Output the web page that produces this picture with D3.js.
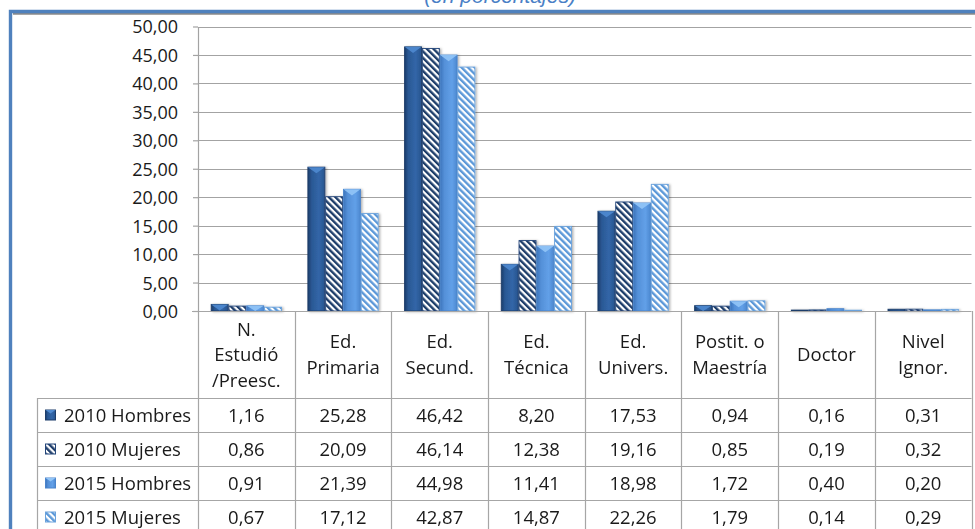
<!DOCTYPE html>
<html>
<head>
<meta charset="utf-8">
<script src="https://cdn.jsdelivr.net/npm/d3@7"></script>
<style>
  html, body { margin: 0; padding: 0; background: #fff; }
  svg { display: block; }
  text { font-family: "Open Sans", "Noto Sans", sans-serif; fill: #1a1a1a; }
</style>
</head>
<body>
<svg id="chart" width="975" height="529"></svg>
<script>
// Education level categories (line breaks as shown in the table header)
const categories = [
  "N.\nEstudió\n/Preesc.", "Ed.\nPrimaria", "Ed.\nSecund.", "Ed.\nTécnica",
  "Ed.\nUnivers.", "Postit. o\nMaestría", "Doctor", "Nivel\nIgnor."
];
const seriesNames = ["2010 Hombres", "2010 Mujeres", "2015 Hombres", "2015 Mujeres"];
const hombres2010 = [1.16, 25.28, 46.42, 8.20, 17.53, 0.94, 0.16, 0.31];
const mujeres2010 = [0.86, 20.09, 46.14, 12.38, 19.16, 0.85, 0.19, 0.32];
const hombres2015 = [0.91, 21.39, 44.98, 11.41, 18.98, 1.72, 0.40, 0.20];
const mujeres2015 = [0.67, 17.12, 42.87, 14.87, 22.26, 1.79, 0.14, 0.29];
const yTicks = [0, 5, 10, 15, 20, 25, 30, 35, 40, 45, 50];
const subtitle = "(en porcentajes)";

const seriesValues = [hombres2010, mujeres2010, hombres2015, mujeres2015];
const seriesKind = ["solidDark", "stripeDark", "solidLight", "stripeLight"];

const svg = d3.select("#chart");
const W = 975;

// Layout
const plotLeft = 198, plotRight = 971.5, plotTop = 26.5, plotBottom = 311;
const headerBottom = 398, rowH = 34, legendLeft = 37;
const tableFont = "18.5px";

const locale = d3.formatLocale({ decimal: ",", thousands: ".", grouping: [3], currency: ["", ""] });
const fmt = locale.format(".2f");

const x = d3.scaleBand().domain(categories).range([plotLeft, plotRight]).padding(0);
const xs = d3.scaleBand().domain(seriesNames).range([0, x.bandwidth()]).paddingInner(0).paddingOuter(0.72);
const y = d3.scaleLinear().domain([0, 50]).range([plotBottom, plotTop]);

// ---- defs: gradients, stripe patterns, shadow
const defs = svg.append("defs");
function hGrad(id, stops) {
  const g = defs.append("linearGradient").attr("id", id)
    .attr("x1", "0%").attr("x2", "100%").attr("y1", "0%").attr("y2", "0%");
  stops.forEach(([o, c]) => g.append("stop").attr("offset", o).attr("stop-color", c));
}
hGrad("gDark", [["0%", "#1a3c6a"], ["22%", "#2a5894"], ["65%", "#3266a8"], ["100%", "#28548e"]]);
hGrad("gLight", [["0%", "#3c74bb"], ["25%", "#5490d8"], ["70%", "#62a0e8"], ["100%", "#4c88d0"]]);

function stripes(id, color) {
  const p = defs.append("pattern").attr("id", id)
    .attr("patternUnits", "userSpaceOnUse").attr("width", 4.6).attr("height", 4.6)
    .attr("patternTransform", "rotate(-45)");
  p.append("rect").attr("width", 4.6).attr("height", 4.6).attr("fill", "#fff");
  p.append("rect").attr("width", 2.4).attr("height", 4.6).attr("fill", color);
}
stripes("pDark", "#1f3e6b");
stripes("pLight", "#5b98d8");

const sh = defs.append("filter").attr("id", "shadow")
  .attr("x", "-30%").attr("y", "-5%").attr("width", "160%").attr("height", "115%");
sh.append("feDropShadow").attr("dx", 1.5).attr("dy", 0.5).attr("stdDeviation", 1.2)
  .attr("flood-color", "#000").attr("flood-opacity", 0.3);

const style = {
  solidDark:   { fill: "url(#gDark)",  stroke: "#1d3d6a", chevron: "#4f8ad0" },
  stripeDark:  { fill: "url(#pDark)",  stroke: "#24467a", chevron: null },
  solidLight:  { fill: "url(#gLight)", stroke: "#4a84cb", chevron: "#92c5f7" },
  stripeLight: { fill: "url(#pLight)", stroke: "#6aa2dc", chevron: null }
};

// ---- subtitle (sits above the frame, partly clipped at the top edge)
svg.append("text").attr("x", 500).attr("y", 3)
  .attr("text-anchor", "middle")
  .style("font-family", "'Liberation Sans', Arial, sans-serif")
  .style("font-style", "italic").style("font-size", "21px")
  .style("fill", "#4a7fc6").text(subtitle);

// ---- frame
svg.append("line").attr("x1", 13).attr("x2", W).attr("y1", 13.8).attr("y2", 13.8)
  .attr("stroke", "#8a8a8a").attr("stroke-width", 1.8);
svg.append("path").attr("d", `M10.5,529 V11.5 H${W}`)
  .attr("fill", "none").attr("stroke", "#4f81bd").attr("stroke-width", 3.4);

// ---- gridlines
const grid = svg.append("g");
grid.selectAll("line").data(yTicks.filter(d => d > 0)).join("line")
  .attr("x1", plotLeft).attr("x2", plotRight)
  .attr("y1", d => Math.round(y(d)) + 0.5).attr("y2", d => Math.round(y(d)) + 0.5)
  .attr("stroke", "#a3a3a3").attr("stroke-width", 1.2);

// ---- y axis
const yAxis = d3.axisLeft(y).tickValues(yTicks).tickFormat(fmt)
  .tickSize(5).tickSizeOuter(0).tickPadding(15);
const gy = svg.append("g").attr("transform", `translate(${plotLeft},0)`).call(yAxis);
gy.select(".domain").attr("stroke", "#a3a3a3").attr("stroke-width", 1.2);
gy.selectAll(".tick line").attr("stroke", "#a3a3a3").attr("stroke-width", 1.2);
gy.selectAll(".tick text").style("font-size", "18px").style("font-family", "'Open Sans', sans-serif")
  .attr("fill", "#1a1a1a").attr("dy", "0.36em");

// ---- bars
const barData = [];
seriesNames.forEach((s, si) => {
  categories.forEach((c, ci) => {
    barData.push({ s, c, v: seriesValues[si][ci], kind: seriesKind[si] });
  });
});
const bars = svg.append("g").attr("filter", "url(#shadow)");
const bg = bars.selectAll("g").data(barData).join("g")
  .attr("transform", d => `translate(${x(d.c) + xs(d.s)},0)`);
bg.append("rect")
  .attr("x", 0.4).attr("width", xs.bandwidth() - 0.8)
  .attr("y", d => y(d.v)).attr("height", d => y(0) - y(d.v))
  .attr("fill", d => style[d.kind].fill)
  .attr("stroke", d => style[d.kind].stroke).attr("stroke-width", 0.9);
bg.filter(d => style[d.kind].chevron && (y(0) - y(d.v)) > 3).append("path")
  .attr("d", d => {
    const w = xs.bandwidth() - 0.8, t = y(d.v), depth = Math.min(w * 0.36, y(0) - t);
    return `M0.4,${t} L${0.4 + w},${t} L${0.4 + w / 2},${t + depth} Z`;
  })
  .attr("fill", d => style[d.kind].chevron).attr("opacity", 0.9);

// ---- data table
const table = svg.append("g");
const rowsBottom = headerBottom + rowH * seriesNames.length;
const lineColor = "#a6a6a6";
// top axis / header top line
table.append("line").attr("x1", plotLeft - 6).attr("x2", plotRight)
  .attr("y1", plotBottom + 0.5).attr("y2", plotBottom + 0.5)
  .attr("stroke", lineColor).attr("stroke-width", 1.2);
// vertical column separators
const colEdges = categories.map(c => x(c)).concat([plotRight]);
table.selectAll("line.col").data(colEdges).join("line").attr("class", "col")
  .attr("x1", d => Math.round(d) + 0.5).attr("x2", d => Math.round(d) + 0.5)
  .attr("y1", plotBottom).attr("y2", rowsBottom)
  .attr("stroke", lineColor).attr("stroke-width", 1.2);
// legend column left edge
table.append("line").attr("x1", legendLeft + 0.5).attr("x2", legendLeft + 0.5)
  .attr("y1", headerBottom).attr("y2", rowsBottom)
  .attr("stroke", lineColor).attr("stroke-width", 1.2);
// row separators
table.selectAll("line.row").data(d3.range(seriesNames.length + 1)).join("line").attr("class", "row")
  .attr("x1", legendLeft).attr("x2", plotRight)
  .attr("y1", i => headerBottom + i * rowH + 0.5).attr("y2", i => headerBottom + i * rowH + 0.5)
  .attr("stroke", lineColor).attr("stroke-width", 1.2);

// header labels
const headerMid = (plotBottom + headerBottom) / 2;
const lineGap = 25.5;
categories.forEach(c => {
  const lines = c.split("\n");
  const t = table.append("text").attr("text-anchor", "middle").style("font-size", tableFont);
  lines.forEach((ln, i) => {
    t.append("tspan").attr("x", x(c) + x.bandwidth() / 2)
      .attr("y", headerMid + (i - (lines.length - 1) / 2) * lineGap)
      .attr("dy", "0.36em").text(ln);
  });
});

// series rows
seriesNames.forEach((s, si) => {
  const cy = headerBottom + si * rowH + rowH / 2;
  const kind = seriesKind[si];
  // legend key
  table.append("rect").attr("x", 45.5).attr("y", cy - 5).attr("width", 10).attr("height", 10)
    .attr("fill", style[kind].fill).attr("stroke", style[kind].stroke).attr("stroke-width", 1);
  if (style[kind].chevron) {
    table.append("path").attr("d", `M45.5,${cy - 5} L55.5,${cy - 5} L50.5,${cy - 1.5} Z`)
      .attr("fill", style[kind].chevron);
  }
  table.append("text").attr("x", 64).attr("y", cy).attr("dy", "0.36em")
    .style("font-size", tableFont).text(s);
  categories.forEach((c, ci) => {
    table.append("text").attr("x", x(c) + x.bandwidth() / 2).attr("y", cy).attr("dy", "0.36em")
      .attr("text-anchor", "middle").style("font-size", tableFont)
      .text(fmt(seriesValues[si][ci]));
  });
});
</script>
</body>
</html>
